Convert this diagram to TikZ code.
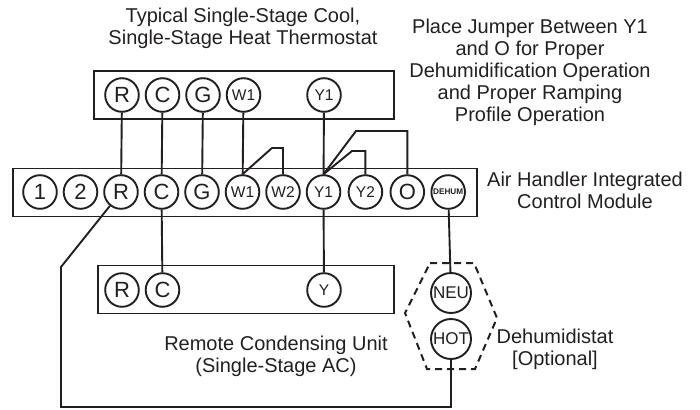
\documentclass[tikz,border=0pt]{standalone}
\usepackage{fontspec}
\setmainfont{Liberation Sans}
\usepackage{xcolor}
\usepackage{tikz}
\usetikzlibrary{positioning}

\definecolor{wireink}{HTML}{231F20}

\begin{document}
\begin{tikzpicture}[
    x=1pt, y=-1pt,
    node distance=5pt,
    strip/.style={rectangle, draw=wireink, line width=1.9pt, minimum height=48pt, anchor=north west, inner sep=0pt},
    term/.style={circle, draw=wireink, line width=1.9pt, fill=white, minimum size=33.6pt, inner sep=0pt, text=wireink, font=\fontsize{22}{22}\selectfont},
    smallterm/.style={term, font=\fontsize{15.5}{15.5}\selectfont},
    dehumterm/.style={term, font=\fontsize{8.2}{8.2}\selectfont\bfseries},
    sensor/.style={term, minimum size=40pt, font=\fontsize{17}{17}\selectfont},
    wire/.style={draw=wireink, line width=1.9pt},
    label/.style={align=center, inner sep=0pt, text=wireink, font=\fontsize{20}{22}\selectfont}
]
\useasboundingbox (0,0) rectangle (700,409);

% Boxes
\node [strip, minimum width=300pt] (thermostat) at (93,70) {};
\node [strip, minimum width=464pt] (module) at (12,167.5) {};
\node [strip, minimum width=296pt] (condenser) at (97,264.5) {};

% Thermostat terminals
\node [term] (tR) at (122,95) {R};
\node [term, right=of tR] (tC) {C};
\node [term, right=of tC] (tG) {G};
\node [smallterm, right=of tG] (tWa) {W1};
\node [smallterm] (tYa) at (324,95) {Y1};

% Control module terminals
\node [term] (mA) at (40,192) {1};
\node [term, right=of mA] (mB) {2};
\node [term, right=of mB] (mR) {R};
\node [term, right=of mR] (mC) {C};
\node [term, right=of mC] (mG) {G};
\node [smallterm, right=of mG] (mWa) {W1};
\node [smallterm, right=of mWa] (mWb) {W2};
\node [smallterm, right=of mWb] (mYa) {Y1};
\node [smallterm, right=6.4pt of mYa] (mYb) {Y2};
\node [term, right=6.4pt of mYb] (mO) {O};
\node [dehumterm, right=5.4pt of mO] (mDehum) {DEHUM};

% Condensing unit terminals
\node [term] (cR) at (122,290) {R};
\node [term, right=of cR] (cC) {C};
\node [smallterm] (cY) at (324,290) {Y};

% Dehumidistat
\node [sensor] (neu) at (451,293) {NEU};
\node [sensor] (hot) at (451,339) {HOT};
\draw [draw=wireink, line width=2pt, dash pattern=on 7pt off 5pt] (430,263) -- (474,263) -- (497,318) -- (475,369) -- (427,369) -- (405,313) -- cycle;

% Bend points
\coordinate (wireA) at (61,267);
\coordinate (wireB) at (61,407);
\coordinate (jumpW) at (272,148);
\coordinate (jumpO) at (356,131);
\coordinate (jumpY) at (352,151);

% Wires
\draw [wire] (tR) -- (mR);
\draw [wire] (tC) -- (mC);
\draw [wire] (tG) -- (mG);
\draw [wire] (tWa) -- (mWa);
\draw [wire] (tYa) -- (mYa);
\draw [wire] (mC) -- (cC);
\draw [wire] (mYa) -- (cY);
\draw [wire] (mDehum) -- (neu);
\draw [wire] (mR) -- (wireA) -- (wireB) -| (hot);
\draw [wire] (mWa.north) -- (jumpW) -| (mWb.north);
\draw [wire] (mYa.north) -- (jumpO) -| (mO.north);
\draw [wire] (mYa.north) -- (jumpY) -| (mYb.north);

% Labels
\node [label] (lblThermostat) at (243,28) {Typical Single-Stage Cool,\\Single-Stage Heat Thermostat};
\node [label] (lblJumper) at (530,72.5) {Place Jumper Between Y1\\and O for Proper\\Dehumidification Operation\\and Proper Ramping\\Profile Operation};
\node [label] (lblModule) at (585,190) {Air Handler Integrated\\Control Module};
\node [label] (lblCondenser) at (276,356.5) {Remote Condensing Unit\\(Single-Stage AC)};
\node [label] (lblDehum) at (555,349.5) {Dehumidistat\\{[Optional]}};

\end{tikzpicture}
\end{document}
